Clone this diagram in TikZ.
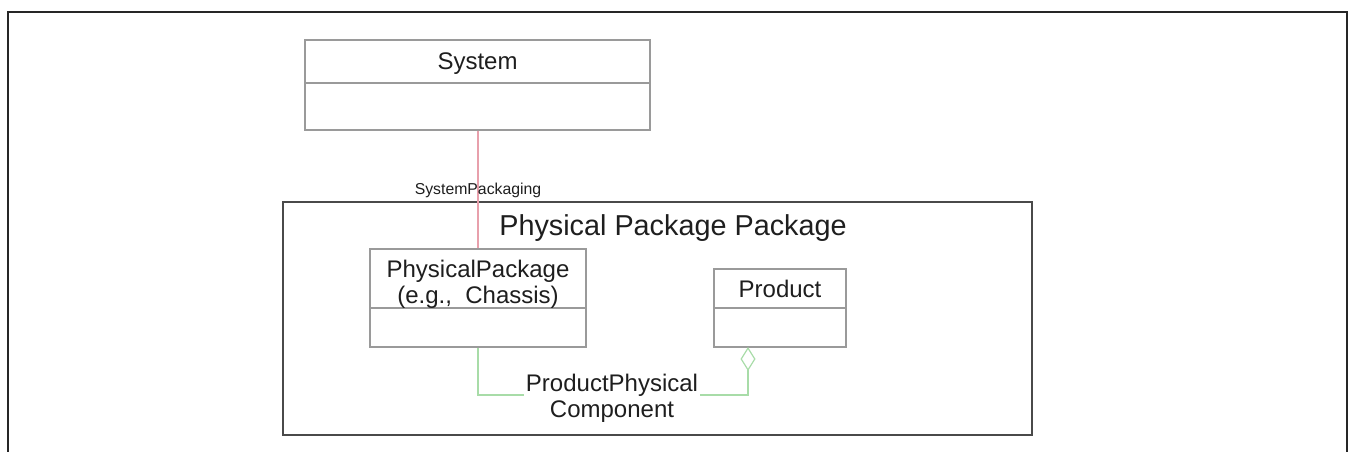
\documentclass[tikz,border=0pt]{standalone}
\usepackage{fontspec}
\setmainfont{Liberation Sans}
\usetikzlibrary{arrows.meta}
\definecolor{boxgray}{HTML}{9A9A9A}
\definecolor{pkggray}{HTML}{4A4A4A}
\definecolor{txtgray}{HTML}{1E1E1E}
\definecolor{redline}{HTML}{E8A0AC}
\definecolor{greenline}{HTML}{A8DCA8}
\tikzset{
  cls/.style={draw=boxgray, line width=0.7pt, inner sep=0pt},
  pkg/.style={draw=pkggray, line width=1pt, inner sep=0pt},
  divider/.style={draw=boxgray, line width=0.7pt},
  clstext/.style={text=txtgray, font=\fontsize{12}{13}\selectfont, align=center, inner sep=0pt},
  smalltext/.style={text=txtgray, font=\fontsize{7.9}{9}\selectfont, inner sep=0pt},
  titletext/.style={text=txtgray, font=\fontsize{14.4}{16}\selectfont, inner sep=0pt},
  redconn/.style={draw=redline, line width=0.6pt},
  greenconn/.style={draw=greenline, line width=0.6pt},
  frame/.style={draw=black!85, line width=0.8pt}
}
\begin{document}
\begin{tikzpicture}[x=0.5pt,y=-0.5pt]
\useasboundingbox (0,0) rectangle (1353,451);
% outer frame (open at bottom)
\draw[frame] (8,460) -- (8,12) -- (1347,12) -- (1347,460);
% package
\node[pkg, minimum width=374.5pt, minimum height=116.5pt] (pkg) at (657.5,318.5) {};
\node[titletext] (pkgtitle) at (673,228.5) {Physical Package Package};
% System class
\node[cls, minimum width=172.5pt, minimum height=45pt] (sys) at (477.5,85) {};
\draw[divider] (305,83) -- (650,83);
\node[clstext] (systxt) at (477.5,64) {System};
% PhysicalPackage class
\node[cls, minimum width=108pt, minimum height=49pt] (pp) at (478,298) {};
\draw[divider] (370,308) -- (586,308);
\node[clstext, text depth=0pt] (pptxt) at (478,281.5) {PhysicalPackage\\(e.g.,~~Chassis)};
% Product class
\node[cls, minimum width=66pt, minimum height=39pt] (prod) at (780,308) {};
\draw[divider] (714,308) -- (846,308);
\node[clstext] (prodtxt) at (780,289) {Product};
% SystemPackaging association
\draw[redconn] (sys.south -| pp.north) -- (pp.north);
\node[smalltext] (syspack) at (478,190.5) {SystemPackaging};
% ProductPhysicalComponent aggregation
\node[clstext, inner xsep=1pt] (ppc) at (612,398) {ProductPhysical\\Component};
\coordinate (prodtip) at (748,347);
\draw[greenconn] (pp.south) |- ([yshift=1.5pt]ppc.west);
\draw[greenconn, -{Diamond[open, length=12pt, width=7.5pt, line width=0.6pt]}] ([yshift=1.5pt]ppc.east) -| (prodtip);
\end{tikzpicture}
\end{document}
